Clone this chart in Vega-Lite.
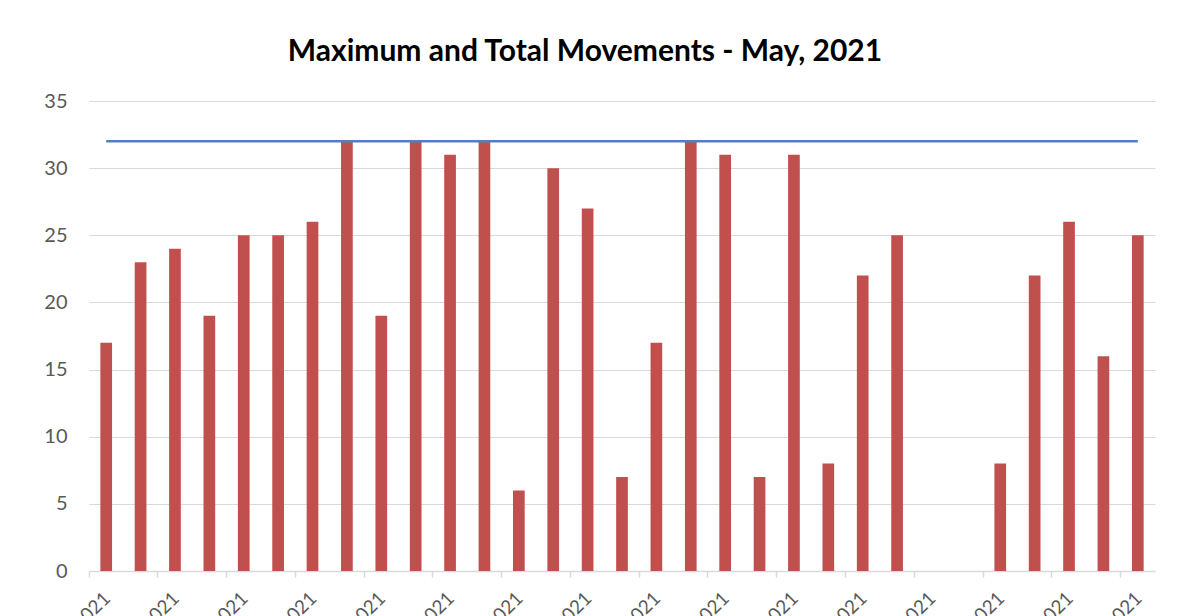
{
  "$schema": "https://vega.github.io/schema/vega-lite/v6.json",
  "width": 1066,
  "height": 470,
  "autosize": {"type": "none"},
  "padding": {"left": 89, "top": 101, "right": 27, "bottom": 45},
  "background": "white",
  "title": {
    "text": "Maximum and Total Movements  - May, 2021",
    "font": "Lato",
    "fontSize": 30,
    "fontWeight": "bold",
    "color": "#000000",
    "anchor": "middle",
    "dx": -37,
    "offset": 0,
    "baseline": "alphabetic"
  },
  "data": {
    "values": [
      {"date": "5/1/2021", "total": 17, "max": 32},
      {"date": "5/2/2021", "total": 23, "max": 32},
      {"date": "5/3/2021", "total": 24, "max": 32},
      {"date": "5/4/2021", "total": 19, "max": 32},
      {"date": "5/5/2021", "total": 25, "max": 32},
      {"date": "5/6/2021", "total": 25, "max": 32},
      {"date": "5/7/2021", "total": 26, "max": 32},
      {"date": "5/8/2021", "total": 32, "max": 32},
      {"date": "5/9/2021", "total": 19, "max": 32},
      {"date": "5/10/2021", "total": 32, "max": 32},
      {"date": "5/11/2021", "total": 31, "max": 32},
      {"date": "5/12/2021", "total": 32, "max": 32},
      {"date": "5/13/2021", "total": 6, "max": 32},
      {"date": "5/14/2021", "total": 30, "max": 32},
      {"date": "5/15/2021", "total": 27, "max": 32},
      {"date": "5/16/2021", "total": 7, "max": 32},
      {"date": "5/17/2021", "total": 17, "max": 32},
      {"date": "5/18/2021", "total": 32, "max": 32},
      {"date": "5/19/2021", "total": 31, "max": 32},
      {"date": "5/20/2021", "total": 7, "max": 32},
      {"date": "5/21/2021", "total": 31, "max": 32},
      {"date": "5/22/2021", "total": 8, "max": 32},
      {"date": "5/23/2021", "total": 22, "max": 32},
      {"date": "5/24/2021", "total": 25, "max": 32},
      {"date": "5/25/2021", "total": 0, "max": 32},
      {"date": "5/26/2021", "total": 0, "max": 32},
      {"date": "5/27/2021", "total": 8, "max": 32},
      {"date": "5/28/2021", "total": 22, "max": 32},
      {"date": "5/29/2021", "total": 26, "max": 32},
      {"date": "5/30/2021", "total": 16, "max": 32},
      {"date": "5/31/2021", "total": 25, "max": 32}
    ]
  },
  "encoding": {
    "x": {
      "field": "date",
      "type": "nominal",
      "sort": null,
      "scale": {"paddingInner": 0.66, "paddingOuter": 0.33},
      "axis": {
        "title": null,
        "values": ["5/1/2021", "5/3/2021", "5/5/2021", "5/7/2021", "5/9/2021", "5/11/2021", "5/13/2021", "5/15/2021", "5/17/2021", "5/19/2021", "5/21/2021", "5/23/2021", "5/25/2021", "5/27/2021", "5/29/2021", "5/31/2021"],
        "bandPosition": -0.97,
        "labelOffset": 1,
        "labelAngle": -45,
        "labelAlign": "right",
        "labelBaseline": "middle",
        "labelFont": "Lato",
        "labelFontSize": 19,
        "labelColor": "#595959",
        "labelPadding": 18,
        "labelOverlap": false,
        "labelBound": false,
        "tickSize": 6,
        "tickColor": "#d9d9d9",
        "tickWidth": 1.5,
        "domainColor": "#d9d9d9",
        "domainWidth": 1.5,
        "grid": false
      }
    }
  },
  "layer": [
    {
      "mark": {"type": "bar", "color": "#c0504d"},
      "encoding": {
        "y": {
          "field": "total",
          "type": "quantitative",
          "scale": {"domain": [0, 35], "nice": false},
          "axis": {
            "title": null,
            "values": [0, 5, 10, 15, 20, 25, 30, 35],
            "domain": false,
            "ticks": false,
            "labelFont": "Lato",
            "labelFontSize": 20,
            "labelColor": "#595959",
            "labelPadding": 22,
            "gridColor": "#d9d9d9",
            "gridWidth": 1.2
          }
        }
      }
    },
    {
      "mark": {"type": "line", "color": "#4f81bd", "strokeWidth": 2.5},
      "encoding": {
        "y": {"field": "max", "type": "quantitative"}
      }
    }
  ],
  "config": {
    "view": {"stroke": null}
  }
}
